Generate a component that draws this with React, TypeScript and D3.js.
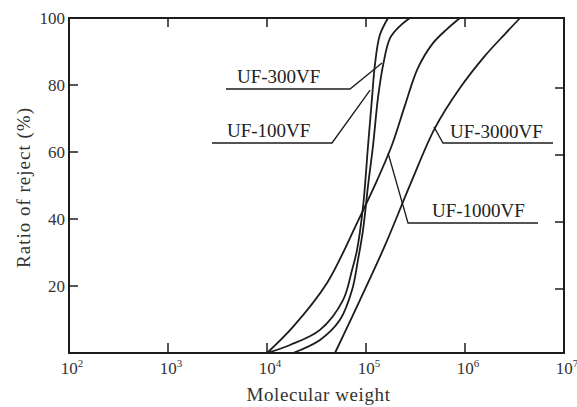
import React from "react";
import * as d3 from "d3";

// Molecular weight (x) and rejection ratio % (y) for each membrane
const uf100MW = [10000, 17100, 34300, 58600, 72300, 81100, 93300, 105000, 115000, 123000, 138000, 167000];
const uf100Pct = [0, 2.4, 6.9, 15.8, 24.8, 30.7, 43.6, 62.1, 76.1, 86.0, 94.9, 100];

const uf300MW = [18300, 34300, 54600, 72300, 83000, 93300, 105000, 118000, 132000, 149000, 175000, 220000, 278000];
const uf300Pct = [0, 3.9, 9.9, 18.8, 27.8, 36.7, 50.1, 62.1, 76.1, 86.0, 94.0, 97.6, 100];

const uf1000MW = [10000, 18300, 40400, 81100, 123000, 183000, 248000, 335000, 475000, 658000, 889000];
const uf1000Pct = [0, 7.8, 20.9, 38.8, 50.1, 62.1, 74.0, 85.1, 92.5, 96.7, 100];

const uf3000MW = [48600, 86900, 156000, 278000, 498000, 889000, 1590000, 2530000, 3600000];
const uf3000Pct = [0, 15.8, 32.2, 50.1, 67.2, 79.1, 88.7, 95.2, 100];

const seriesNames = ["UF-100VF", "UF-300VF", "UF-1000VF", "UF-3000VF"];

const xTickExps = [2, 3, 4, 5, 6, 7];
const yTicks = [20, 40, 60, 80, 100];

// label anchor points on curves (data coords)
const labelAnchorMW = [110000, 145000, 167000, 486000];
const labelAnchorPct = [78.5, 86.6, 59.7, 67.5];

const W = 577;
const H = 407;
const left = 69, right = 564, top = 18, bottom = 353;
const ink = "#1c1c1c";
const serif = "'Liberation Serif', 'DejaVu Serif', serif";

export default function App() {
  const x = d3.scaleLog().domain([1e2, 1e7]).range([left, right]);
  const y = d3.scaleLinear().domain([0, 100]).range([bottom, top]);

  const line = d3
    .line<[number, number]>()
    .x((d) => x(d[0]))
    .y((d) => y(d[1]))
    .curve(d3.curveCatmullRom.alpha(0.5));

  const series = [
    uf100MW.map((m, i) => [m, uf100Pct[i]] as [number, number]),
    uf300MW.map((m, i) => [m, uf300Pct[i]] as [number, number]),
    uf1000MW.map((m, i) => [m, uf1000Pct[i]] as [number, number]),
    uf3000MW.map((m, i) => [m, uf3000Pct[i]] as [number, number]),
  ];

  const layouts = [
    { elbow: [332, 143], end: 212, tx: 227, ty: 137 },
    { elbow: [350, 89], end: 226, tx: 237, ty: 83 },
    { elbow: [408, 223], end: 538, tx: 432, ty: 217 },
    { elbow: [443, 143], end: 553, tx: 450, ty: 138 },
  ];

  return (
    <svg
      width={W}
      height={H}
      style={{ position: "absolute", left: 0, top: 0, background: "#fff" }}
      fontFamily={serif}
    >
      <rect x={0} y={0} width={W} height={H} fill="#fff" />
      <rect
        x={left}
        y={top}
        width={right - left}
        height={bottom - top}
        fill="none"
        stroke={ink}
        strokeWidth={2}
      />
      {xTickExps.slice(1, -1).map((e) => (
        <g key={"xt" + e}>
          <line x1={x(10 ** e)} x2={x(10 ** e)} y1={bottom} y2={bottom - 10} stroke={ink} strokeWidth={1.5} />
          <line x1={x(10 ** e)} x2={x(10 ** e)} y1={top} y2={top + 9} stroke={ink} strokeWidth={1.5} />
        </g>
      ))}
      {yTicks.slice(0, -1).map((t) => (
        <g key={"yt" + t}>
          <line x1={left} x2={left + 9} y1={y(t)} y2={y(t)} stroke={ink} strokeWidth={1.5} />
          <line x1={right} x2={right - 9} y1={y(t) + 3} y2={y(t) + 3} stroke={ink} strokeWidth={1.5} />
        </g>
      ))}
      {yTicks.map((t) => (
        <text key={"yl" + t} x={left - 4} y={y(t) + 6} textAnchor="end" fontSize={17} fill="#333">
          {t}
        </text>
      ))}
      {xTickExps.map((e) => (
        <text key={"xl" + e} x={x(10 ** e) + 3} y={bottom + 21} textAnchor="middle" fontSize={17} fill="#333">
          10
          <tspan fontSize={11} dy={-7}>
            {e}
          </tspan>
        </text>
      ))}
      <text
        x={(left + right) / 2 + 2}
        y={401}
        textAnchor="middle"
        fontSize={19}
        letterSpacing={0.6}
        fill="#333"
      >
        Molecular weight
      </text>
      <text
        transform={`translate(30, ${(top + bottom) / 2 + 2}) rotate(-90)`}
        textAnchor="middle"
        fontSize={19}
        letterSpacing={1}
        fill="#333"
      >
        Ratio of reject  (%)
      </text>
      {series.map((s, i) => (
        <path key={"s" + i} d={line(s) || ""} fill="none" stroke={ink} strokeWidth={1.8} />
      ))}
      {seriesNames.map((name, i) => {
        const L = layouts[i];
        const ax = x(labelAnchorMW[i]);
        const ay = y(labelAnchorPct[i]);
        return (
          <g key={"lab" + i}>
            <polyline
              points={`${ax},${ay} ${L.elbow[0]},${L.elbow[1]} ${L.end},${L.elbow[1]}`}
              fill="none"
              stroke={ink}
              strokeWidth={1.3}
            />
            <text x={L.tx} y={L.ty} fontSize={19} fill="#222">
              {name}
            </text>
          </g>
        );
      })}
    </svg>
  );
}
